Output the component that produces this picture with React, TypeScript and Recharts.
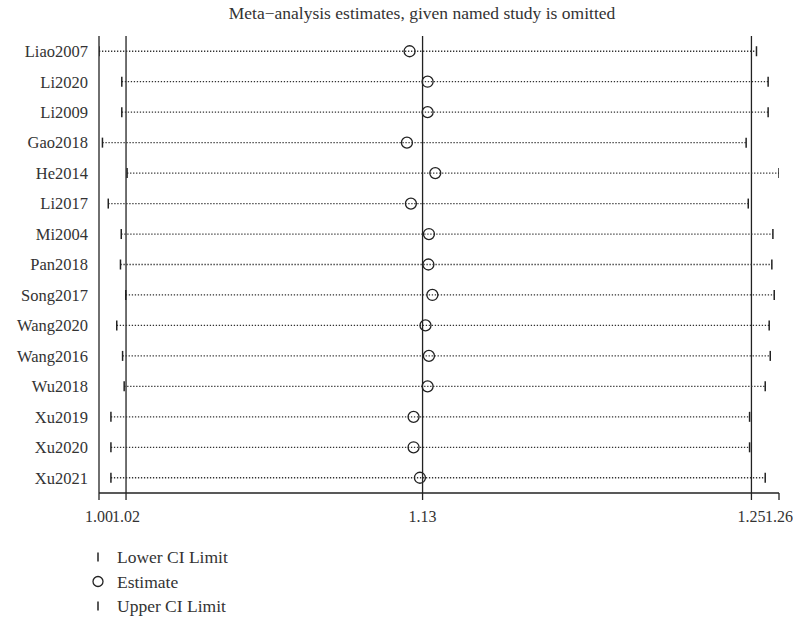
import { ScatterChart, Scatter, XAxis, YAxis, ReferenceLine, Legend } from "recharts";

// leave-one-out estimates (omitted study per row)
const studies = [
  "Liao2007", "Li2020", "Li2009", "Gao2018", "He2014", "Li2017", "Mi2004", "Pan2018",
  "Song2017", "Wang2020", "Wang2016", "Wu2018", "Xu2019", "Xu2020", "Xu2021",
];
const lowerCI = [
  1.0049, 1.0135, 1.0135, 1.0062, 1.0155, 1.0084, 1.0133, 1.013,
  1.015, 1.0116, 1.0138, 1.0144, 1.0094, 1.0094, 1.0094,
];
const estimates = [
  1.1221, 1.1289, 1.1289, 1.1211, 1.1318, 1.1226, 1.1294, 1.1292,
  1.1307, 1.1281, 1.1294, 1.1289, 1.1236, 1.1236, 1.126,
];
const upperCI = [
  1.253, 1.2574, 1.2574, 1.2491, 1.2615, 1.2499, 1.2592, 1.2588,
  1.2597, 1.2578, 1.2582, 1.2563, 1.2504, 1.2504, 1.2563,
];
// pooled estimate with all studies
const pooledLower = 1.0151;
const pooledEstimate = 1.127;
const pooledUpper = 1.2511;

const legendItems = [
  { label: "Lower CI Limit", symbol: "cap" },
  { label: "Estimate", symbol: "circle" },
  { label: "Upper CI Limit", symbol: "cap" },
];

const xTicks = [Math.min(...lowerCI), pooledLower, pooledEstimate, pooledUpper, Math.max(...upperCI)];
const rowTicks = studies.map((_, i) => i + 1);

const INK = "#222";
const TEXT = "#333";
const FONT = "'Liberation Serif', 'DejaVu Serif', serif";

const CapShape = (props: any) => (
  <line x1={props.cx} x2={props.cx} y1={props.cy - 5} y2={props.cy + 5} stroke={INK} strokeWidth={1.5} />
);

const CircleShape = (props: any) => (
  <circle cx={props.cx} cy={props.cy} r={5.5} fill="none" stroke={INK} strokeWidth={1.3} />
);

function LegendBox() {
  return (
    <svg width={240} height={76} style={{ display: "block" }}>
      {legendItems.map((it, i) => {
        const cy = 12 + i * 24.5;
        return (
          <g key={it.label}>
            {it.symbol === "cap" ? (
              <line x1={10} x2={10} y1={cy - 4.5} y2={cy + 4.5} stroke={INK} strokeWidth={1.5} />
            ) : (
              <circle cx={10} cy={cy} r={5} fill="none" stroke={INK} strokeWidth={1.3} />
            )}
            <text x={29} y={cy} dominantBaseline="central" fontSize={17.5} fill={TEXT} fontFamily={FONT}>
              {it.label}
            </text>
          </g>
        );
      })}
    </svg>
  );
}

export default function App() {
  return (
    <div style={{ position: "absolute", left: 0, top: 0, background: "#fff" }}>
      <ScatterChart width={793} height={618} margin={{ top: 36, right: 14, bottom: 95, left: 0 }}>
        <text x={422} y={19} textAnchor="middle" fontSize={17.5} fill={TEXT} fontFamily={FONT}>
          Meta−analysis estimates, given named study is omitted
        </text>
        <XAxis
          type="number"
          dataKey="x"
          domain={[xTicks[0], xTicks[4]]}
          ticks={xTicks}
          interval={0}
          tickFormatter={(v: number) => v.toFixed(2)}
          height={30}
          tickSize={7}
          tickMargin={11}
          stroke={INK}
          strokeWidth={1.3}
          tick={{ fill: TEXT, fontSize: 16, fontFamily: FONT }}
          allowDataOverflow
        />
        <YAxis
          type="number"
          dataKey="y"
          domain={[0.5, 15.5]}
          reversed
          ticks={rowTicks}
          interval={0}
          tickFormatter={(v: number) => studies[v - 1] ?? ""}
          width={99}
          tickSize={0}
          tickMargin={11}
          tickLine={false}
          stroke={INK}
          strokeWidth={1.3}
          tick={{ fill: TEXT, fontSize: 16.5, fontFamily: FONT }}
        />
        <ReferenceLine x={pooledLower} stroke={INK} strokeWidth={1.3} />
        <ReferenceLine x={pooledEstimate} stroke={INK} strokeWidth={1.3} />
        <ReferenceLine x={pooledUpper} stroke={INK} strokeWidth={1.3} />
        {studies.map((name, i) => (
          <Scatter
            key={name}
            name={name}
            data={[
              { x: lowerCI[i], y: i + 1 },
              { x: upperCI[i], y: i + 1 },
            ]}
            line={{ stroke: "#333", strokeWidth: 1.3, strokeDasharray: "1.3 1.7" }}
            shape={CapShape}
            legendType="none"
            isAnimationActive={false}
          />
        ))}
        <Scatter
          name="Estimate"
          data={estimates.map((v, i) => ({ x: v, y: i + 1 }))}
          shape={CircleShape}
          legendType="none"
          isAnimationActive={false}
        />
        <Legend
          layout="vertical"
          align="center"
          verticalAlign="middle"
          wrapperStyle={{ left: 88, top: 545, width: 240 }}
          content={() => <LegendBox />}
        />
      </ScatterChart>
    </div>
  );
}
